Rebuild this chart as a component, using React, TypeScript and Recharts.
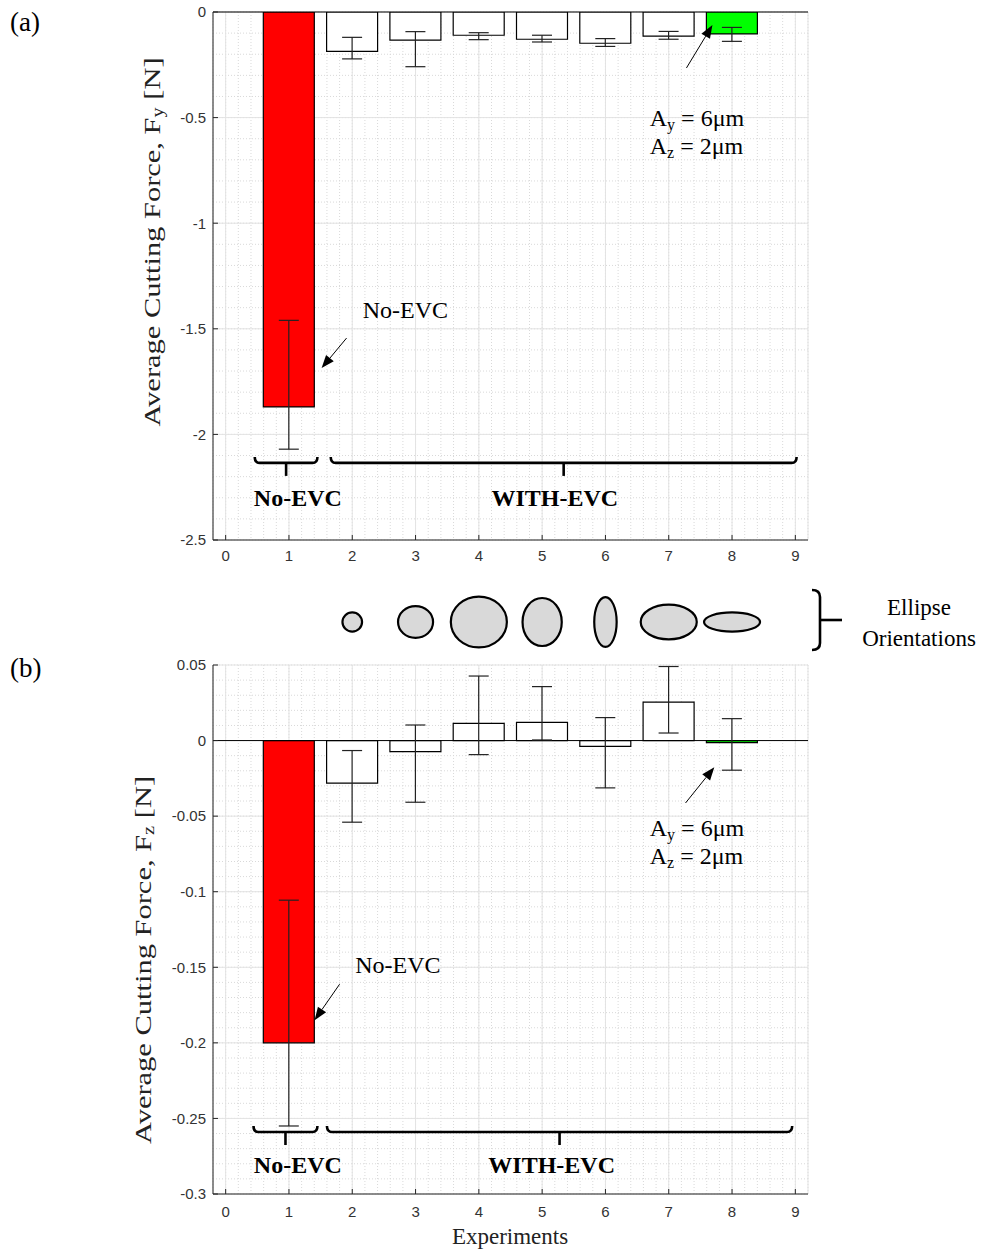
import React from "react";
import {
  ComposedChart,
  ScatterChart,
  Scatter,
  Bar,
  ErrorBar,
  Cell,
  XAxis,
  YAxis,
  CartesianGrid,
  ReferenceLine,
  ReferenceDot,
} from "recharts";

// experiment numbers and measured forces (mean, lower / upper end of the error bar)
const experiments = [1, 2, 3, 4, 5, 6, 7, 8];
const fyMean = [-1.87, -0.186, -0.133, -0.11, -0.129, -0.148, -0.114, -0.104];
const fyLow = [-2.07, -0.222, -0.259, -0.131, -0.142, -0.163, -0.129, -0.139];
const fyHigh = [-1.46, -0.12, -0.093, -0.098, -0.11, -0.126, -0.092, -0.073];
const fzMean = [-0.2, -0.0282, -0.0073, 0.0114, 0.0121, -0.0038, 0.0255, -0.0013];
const fzLow = [-0.255, -0.054, -0.0408, -0.0093, 0.0004, -0.0313, 0.005, -0.0196];
const fzHigh = [-0.1056, -0.0066, 0.0103, 0.0427, 0.0357, 0.0152, 0.049, 0.0145];
const barColors = ["#ff0000", "#ffffff", "#ffffff", "#ffffff", "#ffffff", "#ffffff", "#ffffff", "#00ff00"];

const xTicks = [0, 1, 2, 3, 4, 5, 6, 7, 8, 9];
const fyTicks = [-2.5, -2, -1.5, -1, -0.5, 0];
const fzTicks = [-0.3, -0.25, -0.2, -0.15, -0.1, -0.05, 0, 0.05];

// vibration ellipse per EVC experiment (amplitudes in um)
const ellipseExp = [2, 3, 4, 5, 6, 7, 8];
const ellipseAy = [2.1, 3.75, 6, 4.2, 2.4, 6, 6];
const ellipseAz = [2, 3.3, 5.3, 5, 5.2, 3.6, 2];

const X_DOMAIN: [number, number] = [-0.2, 9.2];
const W = 987;
const M = { left: 213, right: 179 };
const SERIF = "'Liberation Serif', 'Times New Roman', serif";
const SANS = "'Liberation Sans', Arial, sans-serif";
const AXIS = "#262626";

const fyData = experiments.map((e, i) => ({
  x: e,
  v: fyMean[i],
  err: [fyMean[i] - fyLow[i], fyHigh[i] - fyMean[i]],
}));
const fzData = experiments.map((e, i) => ({
  x: e,
  v: fzMean[i],
  err: [fzMean[i] - fzLow[i], fzHigh[i] - fzMean[i]],
}));
const ellipseData = ellipseExp.map((e, i) => ({ x: e, y: 0.5, ay: ellipseAy[i], az: ellipseAz[i] }));

function steps(from: number, to: number, step: number) {
  const out: number[] = [];
  const n = Math.round((to - from) / step);
  for (let i = 0; i <= n; i++) out.push(from + i * step);
  return out;
}

// dotted minor grid (MATLAB style)
function minorX({ offset }: any) {
  const [a, b] = X_DOMAIN;
  return steps(a, b, 0.2).map((v) => offset.left + ((v - a) / (b - a)) * offset.width);
}
function minorY(domain: [number, number], step: number) {
  return ({ offset }: any) => {
    const [a, b] = domain;
    return steps(a, b, step).map((v) => offset.top + ((b - v) / (b - a)) * offset.height);
  };
}

function Arrow(p: any) {
  const { x1, y1, x2, y2 } = p;
  const ang = Math.atan2(y2 - y1, x2 - x1);
  const L = 13;
  const H = 5;
  const bx = x2 - L * Math.cos(ang);
  const by = y2 - L * Math.sin(ang);
  const px = -Math.sin(ang) * H;
  const py = Math.cos(ang) * H;
  return (
    <g>
      <line x1={x1} y1={y1} x2={bx} y2={by} stroke="#000" strokeWidth={1} />
      <polygon points={`${x2},${y2} ${bx + px},${by + py} ${bx - px},${by - py}`} fill="#000" />
    </g>
  );
}

function Bracket(p: any) {
  const { x1, y1, x2 } = p;
  const y = y1;
  const cx = (x1 + x2) / 2;
  return (
    <g fill="none" stroke="#000" strokeWidth={2.6}>
      <path d={`M${x1} ${y - 6} Q${x1} ${y} ${x1 + 5} ${y} L${x2 - 5} ${y} Q${x2} ${y} ${x2} ${y - 6}`} />
      <line x1={cx} y1={y} x2={cx} y2={y + 13} />
    </g>
  );
}

function boldText(label: string) {
  return (p: any) => (
    <text x={p.cx} y={p.cy} textAnchor="middle" dominantBaseline="central" fontFamily={SERIF} fontWeight="bold" fontSize={24} fill="#000">
      {label}
    </text>
  );
}

function plainText(label: string) {
  return (p: any) => (
    <text x={p.cx} y={p.cy} textAnchor="middle" dominantBaseline="central" fontFamily={SERIF} fontSize={24} fill="#000">
      {label}
    </text>
  );
}

function AmpText(p: any) {
  return (
    <g fontFamily={SERIF} fontSize={24} fill="#000">
      <text x={p.cx} y={p.cy} dominantBaseline="central">
        A<tspan dy={6} fontSize={16}>y</tspan>
        <tspan dy={-6}> = 6μm</tspan>
      </text>
      <text x={p.cx} y={p.cy + 28} dominantBaseline="central">
        A<tspan dy={6} fontSize={16}>z</tspan>
        <tspan dy={-6}> = 2μm</tspan>
      </text>
    </g>
  );
}

const tickStyle = { fontSize: 15, fontFamily: SANS, fill: "#333" };

type PanelProps = {
  data: { x: number; v: number; err: number[] }[];
  yDomain: [number, number];
  yTicks: number[];
  yMinor: number;
  height: number;
  top: number;
  xTickMargin: number;
  bracketY: number;
  textY: number;
  brackets: [number, number][];
  groupText: [number, number][];
  noEvc: [number, number];
  noEvcArrow: [number, number, number, number];
  amp: [number, number];
  ampArrow: [number, number, number, number];
};

function Panel(p: PanelProps) {
  return (
    <ComposedChart
      width={W}
      height={p.height}
      data={p.data}
      margin={{ top: p.top, right: M.right, left: 0, bottom: 0 }}
    >
      <CartesianGrid
        stroke="#d9d9d9"
        strokeDasharray="1 2"
        verticalCoordinatesGenerator={minorX}
        horizontalCoordinatesGenerator={minorY(p.yDomain, p.yMinor)}
      />
      <CartesianGrid stroke="#e3e3e3" />
      <XAxis
        dataKey="x"
        type="number"
        domain={X_DOMAIN}
        ticks={xTicks}
        interval={0}
        tickSize={-5}
        tickMargin={p.xTickMargin}
        height={30}
        tick={tickStyle}
        axisLine={{ stroke: AXIS }}
        tickLine={{ stroke: AXIS }}
      />
      <YAxis
        type="number"
        domain={p.yDomain}
        ticks={p.yTicks}
        interval={0}
        width={M.left}
        tickSize={-5}
        tickMargin={12}
        tick={tickStyle}
        axisLine={{ stroke: AXIS }}
        tickLine={{ stroke: AXIS }}
        allowDataOverflow
      />
      <ReferenceLine y={0} stroke="#000" strokeWidth={1} />
      <Bar dataKey="v" barSize={51} stroke="#000" strokeWidth={1.2} isAnimationActive={false}>
        {p.data.map((d, i) => (
          <Cell key={d.x} fill={barColors[i]} />
        ))}
        <ErrorBar dataKey="err" width={10} stroke="#222" strokeWidth={1.2} direction="y" />
      </Bar>
      {p.brackets.map(([a, b]) => (
        <ReferenceLine
          key={a}
          segment={[
            { x: a, y: p.bracketY },
            { x: b, y: p.bracketY },
          ]}
          shape={Bracket}
        />
      ))}
      <ReferenceDot x={p.groupText[0][0]} y={p.textY} r={0} shape={boldText("No-EVC")} />
      <ReferenceDot x={p.groupText[1][0]} y={p.textY} r={0} shape={boldText("WITH-EVC")} />
      <ReferenceDot x={p.noEvc[0]} y={p.noEvc[1]} r={0} shape={plainText("No-EVC")} />
      <ReferenceLine
        segment={[
          { x: p.noEvcArrow[0], y: p.noEvcArrow[1] },
          { x: p.noEvcArrow[2], y: p.noEvcArrow[3] },
        ]}
        shape={Arrow}
      />
      <ReferenceDot x={p.amp[0]} y={p.amp[1]} r={0} shape={AmpText} />
      <ReferenceLine
        segment={[
          { x: p.ampArrow[0], y: p.ampArrow[1] },
          { x: p.ampArrow[2], y: p.ampArrow[3] },
        ]}
        shape={Arrow}
      />
    </ComposedChart>
  );
}

function EllipseShape(p: any) {
  const { cx, cy, payload } = p;
  return (
    <ellipse cx={cx} cy={cy} rx={payload.ay * 4.67} ry={payload.az * 4.8} fill="#d9d9d9" stroke="#000" strokeWidth={2.2} />
  );
}

// rotated axis title, stretched along its length like the reference
function YLabel({ cx, cy, sub }: { cx: number; cy: number; sub: string }) {
  return (
    <text
      x={0}
      y={0}
      transform={`translate(${cx} ${cy}) rotate(-90) scale(1.27 1)`}
      textAnchor="middle"
      dominantBaseline="central"
      fontFamily={SERIF}
      fontSize={24}
      fill="#222"
    >
      Average Cutting Force, F<tspan dy={6} fontSize={16}>{sub}</tspan>
      <tspan dy={-6}> [N]</tspan>
    </text>
  );
}

export default function App() {
  return (
    <div style={{ position: "absolute", left: 0, top: 0, width: W, height: 1249, background: "#fff" }}>
      <div style={{ position: "absolute", left: 0, top: 0 }}>
        <Panel
          data={fyData}
          yDomain={[-2.5, 0]}
          yTicks={fyTicks}
          yMinor={0.1}
          height={570}
          top={12}
          xTickMargin={15}
          bracketY={-2.135}
          textY={-2.3}
          brackets={[
            [0.46, 1.45],
            [1.66, 9.02],
          ]}
          groupText={[
            [1.14, 0],
            [5.2, 0],
          ]}
          noEvc={[2.84, -1.41]}
          noEvcArrow={[1.91, -1.544, 1.516, -1.686]}
          amp={[6.7, -0.502]}
          ampArrow={[7.28, -0.265, 7.69, -0.062]}
        />
      </div>
      <div style={{ position: "absolute", left: 0, top: 584 }}>
        <ScatterChart width={W} height={76} margin={{ top: 0, right: M.right, left: M.left, bottom: 0 }}>
          <XAxis dataKey="x" type="number" domain={X_DOMAIN} hide />
          <YAxis dataKey="y" type="number" domain={[0, 1]} hide width={0} />
          <Scatter data={ellipseData} shape={EllipseShape} isAnimationActive={false} />
        </ScatterChart>
      </div>
      <div style={{ position: "absolute", left: 0, top: 640 }}>
        <Panel
          data={fzData}
          yDomain={[-0.3, 0.05]}
          yTicks={fzTicks}
          yMinor={0.01}
          height={584}
          top={25}
          xTickMargin={17}
          bracketY={-0.259}
          textY={-0.281}
          brackets={[
            [0.44, 1.45],
            [1.6, 8.95],
          ]}
          groupText={[
            [1.14, 0],
            [5.15, 0],
          ]}
          noEvc={[2.72, -0.1486]}
          noEvcArrow={[1.8, -0.1612, 1.405, -0.185]}
          amp={[6.7, -0.058]}
          ampArrow={[7.265, -0.0413, 7.72, -0.0176]}
        />
      </div>
      <svg width={W} height={1249} style={{ position: "absolute", left: 0, top: 0, pointerEvents: "none" }}>
        <text x={10} y={22} dominantBaseline="central" fontFamily={SERIF} fontSize={27} fill="#000">(a)</text>
        <text x={10} y={668} dominantBaseline="central" fontFamily={SERIF} fontSize={27} fill="#000">(b)</text>
        <YLabel cx={152} cy={242} sub="y" />
        <YLabel cx={143} cy={960} sub="z" />
        <text x={510} y={1236} textAnchor="middle" dominantBaseline="central" fontFamily={SERIF} fontSize={23} fill="#222">
          Experiments
        </text>
        <g fill="none" stroke="#000" strokeWidth={2.6}>
          <path d="M812 590 Q820 590 820 597 L820 643 Q820 650 812 650" />
          <line x1={820} y1={620} x2={842} y2={620} />
        </g>
        <text x={919} y={615} textAnchor="middle" fontFamily={SERIF} fontSize={23} fill="#000">Ellipse</text>
        <text x={919} y={646} textAnchor="middle" fontFamily={SERIF} fontSize={23} fill="#000">Orientations</text>
      </svg>
    </div>
  );
}
